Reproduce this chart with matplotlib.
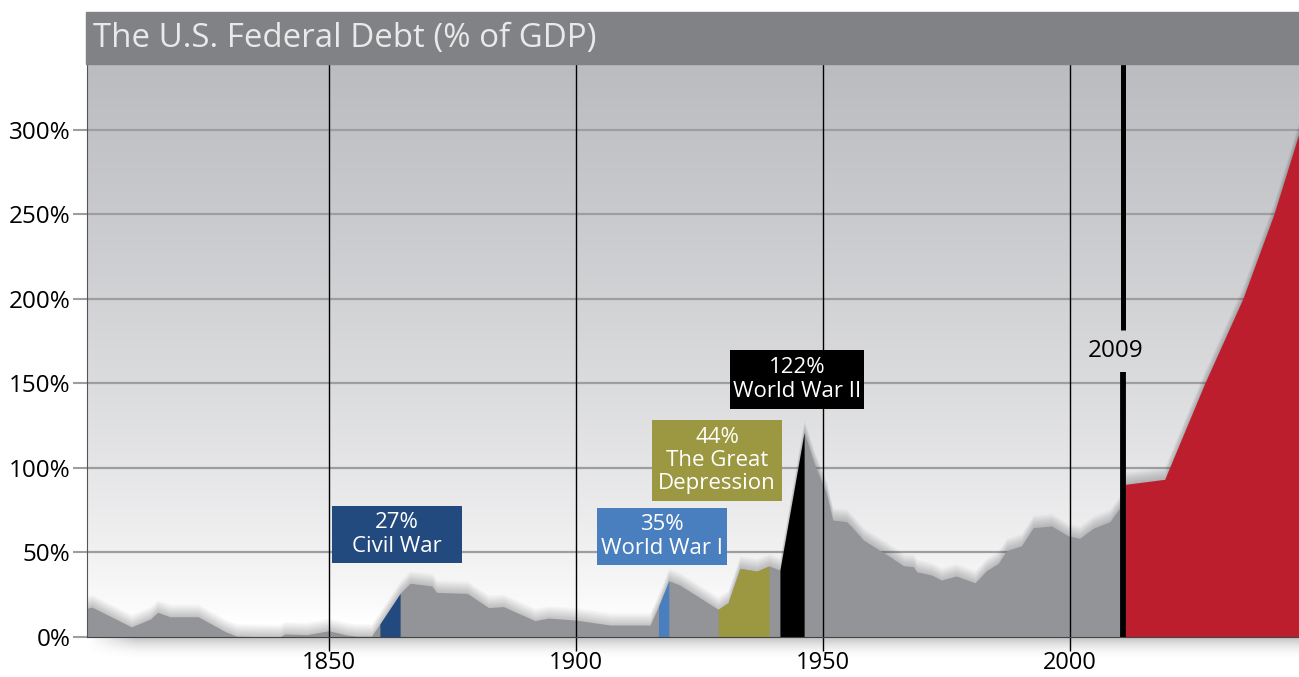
import matplotlib
matplotlib.use("Agg")
import matplotlib.pyplot as plt
import numpy as np
from matplotlib.patches import Rectangle
from matplotlib.colors import to_rgb

plt.rcParams['font.family'] = ['Open Sans', 'DejaVu Sans']

# historical debt, % of GDP
years = [1801, 1802, 1810, 1813.8, 1815.3, 1817.8, 1823.5, 1829, 1831.3, 1840,
         1841, 1845.5, 1850, 1853.6, 1855.6, 1858.6, 1860.3, 1864.4, 1866.4, 1870.8,
         1871.8, 1878, 1882.3, 1885.3, 1891.7, 1894.4, 1900, 1906.9, 1915, 1916.7,
         1918.8, 1921, 1928.8, 1930.8, 1933.2, 1936.6, 1939.1, 1941.3, 1946.2, 1948.2,
         1950.7, 1952, 1954.8, 1955.8, 1958.2, 1963.6, 1966.3, 1968.3, 1969, 1972,
         1974, 1977, 1980.8, 1983.1, 1985.5, 1987.2, 1990.2, 1992.6, 1996.3, 1999.7,
         2002, 2004.7, 2008.1, 2010.3, 2011]
debt = [17, 17.7, 6, 10.6, 14.6, 12, 12, 3.2, 0.5, 0,
        1.8, 1.4, 3.7, 1.2, 0.5, 0.5, 7.7, 25.8, 31.8, 30.2,
        26.4, 25.8, 17.4, 18, 9.7, 11.2, 10, 7.1, 7.1, 18,
        33.3, 30.8, 16.4, 20.3, 40.6, 39, 42, 39.6, 121, 103,
        85, 69.2, 68.2, 65.3, 57.4, 47.5, 42.2, 41.6, 38.6, 36.7,
        33.7, 36.1, 32.1, 39.2, 43.6, 51.1, 54, 64.7, 65.7, 59.8,
        58.4, 64.3, 68.2, 77.1, 80]

# projection
proj_years = [2011.2, 2019.2, 2027.3, 2035, 2041.3, 2046.4]
proj_debt = [90.3, 93.3, 150, 200, 250, 298]

# highlighted periods: (start, end, colour, label, box x0, x1, y0, y1)
periods = [
    (1860.3, 1864.4, '#234a7e', '27%\nCivil War', 1850.6, 1876.9, 43.8, 77.5),
    (1916.7, 1918.8, '#4a7fbf', '35%\nWorld War I', 1904.3, 1930.6, 42.6, 76.3),
    (1928.8, 1939.1, '#9c9841', '44%\nThe Great\nDepression', 1915.4, 1941.7, 80.5, 128.4),
    (1941.3, 1946.2, '#000000', '122%\nWorld War II', 1931.2, 1958.3, 134.9, 169.8),
]

xticks = [1850, 1900, 1950, 2000]
yticks = [0, 50, 100, 150, 200, 250, 300]

W, H = 1299, 677
fig = plt.figure(figsize=(W / 100, H / 100), dpi=100)
fig.patch.set_facecolor('white')
ax = fig.add_axes([87 / W, 40 / H, 1212 / W, 573 / H])
xmin, xmax = 1801, 2046.4
ymin, ymax = 0, 339
ax.set_xlim(xmin, xmax)
ax.set_ylim(ymin, ymax)

# background gradient
t = np.linspace(0, 1, 300)[:, None]
f = np.clip((t - 0.03) / 0.97, 0, 1) ** 0.75
top = np.array(to_rgb('#bbbcc0'))
grad = (1 - f)[..., None] * np.ones(3) + f[..., None] * top
grad = np.repeat(grad, 2, axis=1)
ax.imshow(grad, extent=[xmin, xmax, ymin, ymax], origin='lower', aspect='auto', zorder=0)

# horizontal grid
for v in yticks[1:]:
    ax.axhline(v, color='#9d9ea0', lw=1.6, zorder=1)

# soft shadow round the area
yr = np.array(years)
d = np.array(debt)
for k in range(1, 16):
    ax.fill_between(yr, 0, d + k * 0.5, color='#303035', alpha=0.018, lw=0, zorder=2)
    ax.fill_between(proj_years, 0, np.array(proj_debt) + k * 0.5, color='#303035',
                    alpha=0.018, lw=0, zorder=2)

ax.fill_between(yr, 0, d, color='#939498', lw=0, zorder=3)
for s, e, c, lab, bx0, bx1, by0, by1 in periods:
    m = (yr >= s - 0.01) & (yr <= e + 0.01)
    ax.fill_between(yr[m], 0, d[m], color=c, lw=0, zorder=4)
    ax.add_patch(Rectangle((bx0, by0), bx1 - bx0, by1 - by0, color=c, lw=0, zorder=6))
    ax.text((bx0 + bx1) / 2, (by0 + by1) / 2, lab, color='white', fontsize=16,
            ha='center', va='center', linespacing=1.15, zorder=7)

ax.fill_between(proj_years, 0, proj_debt, color='#bd1e2e', lw=0, zorder=4)

# vertical grid
for v in xticks:
    ax.axvline(v, color='black', lw=1, zorder=5)

# 2009 marker
line_x = 2010.8
ax.plot([line_x, line_x], [0, 156.8], color='black', lw=4.2, solid_capstyle='butt', zorder=6)
ax.plot([line_x, line_x], [181.7, ymax], color='black', lw=3.6, solid_capstyle='butt', zorder=6)
ax.text(2009.3, 169, '2009', fontsize=17.5, ha='center', va='center', color='black', zorder=7)

ax.set_xticks(xticks)
ax.set_xticklabels([str(v) for v in xticks], fontsize=17)
ax.set_yticks(yticks)
ax.set_yticklabels(['%d%%' % v for v in yticks], fontsize=17.5)
ax.tick_params(axis='x', length=10, width=1, color='black', pad=0)
ax.tick_params(axis='y', length=10, width=1.5, color='#9d9ea0', pad=2)
for sp in ['top', 'right']:
    ax.spines[sp].set_visible(False)
ax.spines['left'].set_color('#555555')
ax.spines['bottom'].set_color('#444444')
ax.spines['left'].set_zorder(8)
ax.spines['bottom'].set_zorder(8)

# shadow under the baseline
sax = fig.add_axes([87 / W, 17 / H, 1212 / W, 23 / H], zorder=-1)
sy = np.linspace(0, 1, 50)[:, None]
sx = np.clip(np.linspace(0, 1, 400)[None, :] / 0.04, 0, 1)
sh = (sy ** 2) * sx
simg = np.ones((50, 400, 4))
simg[..., :3] = 0.45
simg[..., 3] = sh * 0.45
sax.imshow(simg, extent=[0, 1, 0, 1], origin='lower', aspect='auto')
sax.axis('off')

# title bar
fig.patches.append(Rectangle((86 / W, (H - 64) / H), (W - 86) / W, 52 / H,
                             transform=fig.transFigure, color='#818286', zorder=0))
fig.text(93 / W, (H - 38) / H, 'The U.S. Federal Debt (% of GDP)', color='#e9e9e9',
         fontsize=23.8, ha='left', va='center')

fig.savefig('out.png', dpi=100)
